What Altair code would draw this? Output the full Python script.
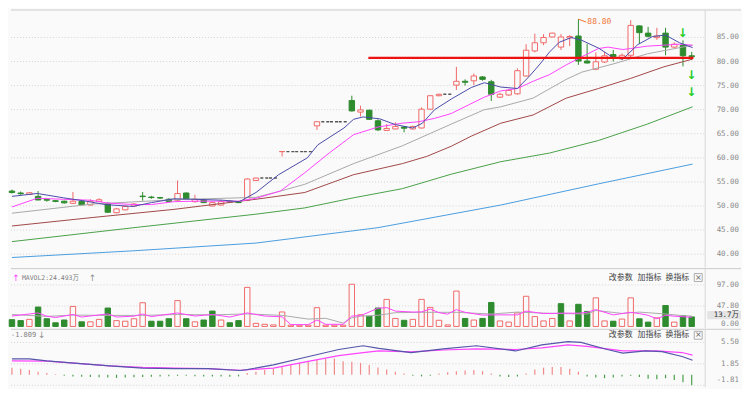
import altair as alt
import pandas as pd

# ---------------- data ----------------
opens = [53.1, 52.7, 52.4, 52.0, 51.35, 51.1, 51.0, 50.55, 50.95, 50.2,
         50.95, 50.55, 48.6, 49.2, 50.0, 52.05, 51.85, 51.75, 51.4, 51.2,
         52.7, 50.9, 51.2, 50.0, 50.2, 51.0, 50.8, 51.2, 55.3, 55.8,
         55.8, 61.3, 61.3, 61.3, 61.3, 66.65, 67.5, 67.5, 67.5, 71.9,
         69.5, 69.9, 67.7, 65.7, 66.0, 66.4, 66.0, 66.2, 70.1, 72.9,
         73.2, 75.1, 75.9, 76.0, 76.8, 75.8, 72.6, 73.05, 73.3, 77.0,
         82.2, 83.9, 85.1, 83.0, 84.9, 85.3, 80.1, 78.4, 79.9, 81.45,
         80.6, 81.3, 87.4, 85.9, 84.96, 85.9, 83.0, 83.4, 81.2]
highs = [53.4, 53.0, 52.9, 53.1, 51.6, 51.2, 51.1, 52.9, 51.0, 51.4,
         51.6, 50.8, 49.6, 50.1, 50.6, 52.9, 52.1, 51.9, 51.6, 55.3,
         52.8, 52.3, 51.5, 50.9, 51.3, 51.1, 50.9, 55.75, 55.9, 55.8,
         55.8, 61.3, 61.3, 61.3, 61.3, 67.5, 67.5, 67.5, 67.5, 72.9,
         70.85, 70.0, 68.0, 67.0, 67.4, 66.6, 66.7, 70.5, 73.0, 73.3,
         73.2, 78.9, 76.3, 77.5, 77.0, 76.2, 73.5, 74.2, 78.6, 83.6,
         85.8, 85.7, 86.0, 85.7, 85.5, 88.8, 83.7, 81.9, 82.0, 82.4,
         81.7, 88.6, 87.5, 87.2, 87.0, 87.0, 84.0, 84.4, 82.0]
lows = [52.6, 52.3, 52.3, 51.2, 50.9, 50.8, 50.5, 50.4, 50.2, 50.1,
        50.8, 48.6, 48.5, 49.1, 49.9, 51.1, 51.5, 51.5, 50.8, 51.0,
        51.4, 50.7, 50.6, 49.9, 50.1, 50.7, 50.6, 51.0, 55.2, 55.8,
        55.8, 60.3, 61.3, 61.3, 61.3, 65.8, 67.5, 67.5, 67.5, 69.6,
        68.6, 67.9, 65.6, 65.6, 65.9, 65.3, 65.9, 66.1, 70.0, 72.8,
        73.2, 74.1, 75.0, 75.1, 76.0, 71.8, 72.4, 72.9, 73.1, 76.9,
        81.9, 83.4, 85.0, 82.4, 83.2, 79.3, 79.6, 78.2, 79.7, 80.0,
        80.3, 80.8, 83.7, 85.0, 84.5, 81.3, 82.8, 79.0, 80.3]
closes = [52.8, 52.55, 52.75, 51.25, 51.2, 50.95, 50.65, 51.0, 50.25, 51.0,
          51.3, 48.7, 49.4, 49.9, 50.4, 51.95, 51.75, 51.65, 50.95, 52.6,
          51.5, 51.4, 50.7, 50.7, 50.9, 50.85, 50.7, 55.6, 55.8, 55.8,
          55.8, 61.3, 61.3, 61.3, 61.3, 67.5, 67.5, 67.5, 67.5, 69.75,
          69.95, 68.0, 65.8, 66.1, 66.5, 66.15, 66.5, 70.1, 72.9, 73.2,
          73.2, 75.9, 75.7, 77.0, 76.3, 73.2, 73.2, 74.0, 78.1, 82.35,
          83.9, 85.0, 85.9, 85.1, 85.2, 80.1, 79.7, 79.95, 81.2, 81.0,
          81.3, 87.5, 86.0, 85.25, 85.3, 83.0, 83.6, 81.2, 81.0]
suspended = [29, 30, 32, 33, 34, 36, 37, 38, 50]

volumes = [15.8, 13.6, 16.5, 45.3, 18.0, 8.6, 15.0, 46.7, 10.8, 10.8,
           16.5, 43.0, 13.6, 12.2, 18.0, 55.4, 12.2, 12.2, 18.0, 60.3,
           18.0, 10.8, 15.0, 35.9, 15.0, 8.6, 13.6, 91.2, 7.2, 5.0,
           3.6, 33.8, 3.0, 3.0, 3.0, 43.8, 3.0, 3.0, 3.0, 98.5,
           27.3, 23.7, 43.1, 63.2, 18.7, 14.4, 16.5, 63.2, 44.5, 14.4,
           3.6, 82.6, 18.7, 15.0, 18.7, 56.0, 12.9, 10.1, 31.6, 70.4,
           23.0, 12.9, 18.7, 53.2, 12.9, 51.7, 35.1, 66.8, 12.9, 12.2,
           17.2, 66.8, 17.9, 10.1, 20.0, 48.9, 10.1, 25.2, 22.2]
vol_colors = ["g", "g", "r", "g", "g", "g", "g", "r", "g", "r",
              "r", "g", "r", "r", "r", "r", "g", "g", "g", "r",
              "g", "r", "g", "g", "r", "g", "g", "r", "r", "r",
              "r", "r", "r", "r", "r", "r", "r", "r", "r", "r",
              "r", "g", "g", "r", "r", "g", "r", "r", "r", "r",
              "r", "r", "g", "r", "g", "g", "r", "r", "r", "r",
              "r", "r", "r", "g", "r", "g", "g", "r", "r", "g",
              "r", "r", "g", "g", "r", "g", "r", "g", "g"]

ma5_x = [0, 2.9, 5.9, 8.5, 10.7, 13.9, 16, 18.6, 20.9, 24.2, 26.1, 28, 30.6, 33.9, 35.1,
         38.1, 39.2, 40.3, 42.2, 44, 46, 47.1, 48.5, 50.4, 52.7, 54.2, 56.1, 58, 59.4,
         60.6, 61.7, 62.8, 64.2, 65.4, 67.3, 69, 70.1, 71.8, 73.5, 75, 76.6, 78.1]
ma5_y = [52.0, 52.6, 51.7, 51.0, 50.3, 49.9, 50.7, 51.5, 51.4, 51.2, 50.9, 52.8, 56.5, 60.0, 62.7,
         66.2, 68.0, 68.5, 68.1, 66.9, 66.2, 67.2, 70.0, 72.2, 74.6, 75.6, 74.7, 74.4, 77.0,
         79.5, 82.0, 84.0, 85.0, 84.4, 82.8, 80.8, 80.5, 83.5, 85.2, 85.5, 83.9, 82.9]
ma10_x = [0, 2.9, 5.9, 9, 11, 14, 16, 18.6, 21, 24, 26.1, 28, 30.8, 33.6, 36.4, 39.2, 42,
          44.8, 46.7, 48.5, 50.4, 52.4, 54.2, 56.1, 58, 59.8, 61.7, 63.6, 65.4, 67.3, 68.4,
          70.1, 71, 72.9, 74.8, 76.6, 78.1]
ma10_y = [49.8, 51.6, 51.4, 51.2, 50.6, 50.3, 50.3, 50.9, 51.0, 51.0, 51.0, 51.6, 53.1, 56.9, 61.0,
          64.8, 66.4, 67.2, 67.5, 68.2, 69.2, 71.0, 72.6, 73.9, 74.4, 75.9, 77.3, 79.3, 81.0,
          82.7, 83.0, 82.5, 82.7, 83.2, 83.4, 83.6, 83.4]
ma20_x = [0, 9.2, 18.6, 28, 30.8, 33.6, 39.2, 44.8, 50.4, 54.2, 56.1, 59.8, 63.6, 65.4, 69.2, 72.9, 78.1]
ma20_y = [48.5, 50.4, 51.3, 51.8, 53.1, 54.5, 58.8, 62.5, 67.0, 70.0, 70.6, 72.4, 76.3, 77.8, 79.6, 81.6, 83.4]
ma30_x = [0, 9.2, 18.6, 28, 33.6, 39.2, 44.8, 47.6, 50.4, 52.7, 56.1, 59.8, 63.6, 67.3, 71, 74.8, 78.1]
ma30_y = [45.85, 47.6, 49.3, 51.4, 52.8, 56.5, 58.8, 60.3, 62.4, 64.5, 67.2, 68.9, 72.4, 74.4, 76.5, 78.9, 80.5]
ma60_x = [0, 14, 28, 33.6, 39.2, 44.8, 50.4, 56.1, 61.7, 67.3, 70.1, 72.9, 78.1]
ma60_y = [42.6, 45.5, 48.3, 49.6, 51.7, 53.6, 56.6, 59.2, 61.0, 63.6, 65.3, 67.0, 70.6]
ma120_x = [0, 14, 28, 42, 56.1, 67.3, 78.1]
ma120_y = [39.3, 40.7, 42.3, 45.5, 50.2, 54.6, 58.7]

mavol1_x = [0, 3, 4, 5, 7, 8, 11, 12, 14, 15, 16, 19, 21, 23, 25, 27, 29, 31, 32, 34, 35, 36,
            38, 39, 40, 42, 43, 44, 46, 47, 48, 49, 50, 51, 52, 54, 56, 58, 59, 61, 63, 65,
            66, 67, 69, 71, 72, 73, 74, 75, 76, 78]
mavol1_y = [24.3, 31.5, 24, 20.8, 27.9, 22, 29.3, 22, 24, 29, 23, 31.5, 24.3, 28, 22, 31.5, 24.3,
            22.5, 4.3, 4.3, 15, 5, 5, 24.3, 25.1, 42.5, 44, 35.8, 33.6, 34, 40.7, 32.2, 28.7,
            39.3, 33, 26.5, 27, 27, 35.8, 30, 31, 31, 33, 39.3, 27, 33, 30, 26, 17.9, 26, 24, 21.4]
mavol2_x = [0, 4, 7, 11, 15, 19, 23, 27, 31, 34, 36, 38, 39, 40, 42, 44, 47, 51, 55, 58, 62,
            66, 67, 70, 72, 73, 75, 77, 78]
mavol2_y = [27.9, 23.5, 26.5, 25.8, 25.8, 27.9, 27, 29.3, 25.8, 17.2, 19, 7.9, 20, 24, 26, 32.2,
            33, 33, 29, 33.5, 30.5, 29, 37.3, 30.5, 33.5, 32, 29, 25.1, 24.3]

dif_x = [0, 2, 4, 7.5, 11.2, 15, 18.7, 22.5, 26.2, 27, 30, 33.7, 37.5, 40.3, 42.1, 45.8, 49.5,
         53.3, 57.8, 60.8, 63.8, 65.3, 68.3, 70.1, 72.7, 74.6, 76.9, 78.1]
dif_y = [2.71, 2.71, 2.35, 1.92, 1.51, 1.13, 1.03, 1.03, 0.71, 0.87, 1.67, 2.98, 4.3, 4.94, 4.5,
         3.78, 4.41, 4.94, 4.05, 5.1, 5.63, 5.5, 4.3, 3.67, 4.05, 3.94, 3.1, 2.46]
dea_x = [0, 4, 7.5, 11.2, 15, 18.7, 22.5, 26.2, 30, 33.7, 37.5, 40.3, 42.1, 45.8, 49.5, 53.3,
         57.8, 60.8, 63.8, 66, 70.1, 74, 76.9, 78.1]
dea_y = [2.35, 2.3, 1.92, 1.51, 1.24, 1.13, 1.03, 0.76, 1.13, 2.19, 3.25, 3.78, 4.05, 3.89, 4.21,
         4.41, 4.3, 4.57, 5.1, 4.84, 4.05, 4.05, 3.78, 3.35]
macd_bar = [1.2, 1.0, 0.8, 0.5, 0.3, 0.1, -0.2, -0.3, -0.35, -0.4, -0.45, -0.5, -0.55, -0.5,
            -0.45, -0.4, -0.35, -0.3, -0.25, -0.2, -0.2, -0.25, -0.3, -0.3, -0.3, -0.35, -0.3,
            0.3, 0.5, 0.8, 1.1, 1.4, 1.7, 2.0, 2.3, 2.5, 2.7, 2.75, 2.3, 2.19, 2.03, 1.67, 1.24,
            0.9, 0.5, 0.2, -0.2, -0.3, -0.2, 0.2, 0.4, 0.6, 0.7, 0.8, 0.6, 0.2, -0.3, -0.4, -0.3,
            0.2, 0.9, 1.2, 1.3, 1.3, 1.0, 0.5, -0.3, -0.5, -0.6, -0.5, -0.3, -0.2, -0.4, -0.7,
            -0.8, -0.6, -0.9, -1.3, -1.8]

price_ticks = [85, 80, 75, 70, 65, 60, 55, 50, 45, 40]
vol_ticks = [97.0, 47.8]
vol_ticks_low = [0.0]
macd_ticks = [5.5, 1.85]
macd_ticks_low = [-1.81]

support_level = 80.76
support_from, support_to = 40.9, 78.2
signal_idx = [77, 78, 78]
signal_price = [85.9, 77.3, 73.6]

# ---------------- styling ----------------
W = 698
HM, HV, HD = 259, 60, 58
BG = "#fafafa"
RED = "#f06a6a"
GRN = "#2e8b2e"
GRID = "#d4d4d4"
MONO = "DejaVu Sans Mono, Noto Sans CJK SC"
CJK = "Noto Sans CJK SC"
LBL = "#8a8a8a"

xscale = alt.Scale(domain=[-0.11, 79.55], nice=False, zero=False)
ys_main = alt.Scale(domain=[37.2, 90.7], nice=False, zero=False)
ys_vol = alt.Scale(domain=[-4.3, 135], nice=False, zero=False)
ys_macd = alt.Scale(domain=[-2.1, 7.75], nice=False, zero=False)


def X(f):
    return alt.X(f, scale=xscale, axis=None)


def Yf(f, s):
    return alt.Y(f, scale=s, axis=None)


one = pd.DataFrame({"a": [0]})


def note(txt, x, y, color="#444", size=8, font=CJK, align="center", weight="normal"):
    return alt.Chart(one).mark_text(text=txt, color=color, fontSize=size, font=font,
                                    align=align, baseline="middle", fontWeight=weight).encode(
        x=alt.value(x), y=alt.value(y))


def grid_and_labels(ticks, scale, fmt, dy=0):
    df = pd.DataFrame({"v": ticks, "lab": [fmt.format(t) for t in ticks]})
    g = alt.Chart(df).mark_rule(color=GRID, strokeDash=[1, 2], strokeWidth=1).encode(
        y=Yf("v:Q", scale), x=alt.value(0), x2=alt.value(W))
    t = alt.Chart(df).mark_text(align="right", baseline="middle", font=MONO, fontSize=7.5,
                                color=LBL, dy=dy).encode(
        y=Yf("v:Q", scale), x=alt.value(W + 34), text="lab:N")
    return [g, t]


def frame(H):
    top = alt.Chart(one).mark_rule(color="#cccccc").encode(
        x=alt.value(0), x2=alt.value(W + 36), y=alt.value(0))
    right = alt.Chart(one).mark_rule(color="#d8d8d8").encode(
        x=alt.value(W), y=alt.value(0), y2=alt.value(H))
    return [top, right]


def tool_header(y):
    out = [note("改参数", 613, y), note("加指标", 642, y), note("换指标", 670, y)]
    box = alt.Chart(one).mark_rect(fill=BG, stroke="#999999", strokeWidth=0.8).encode(
        x=alt.value(687), x2=alt.value(695), y=alt.value(y - 4), y2=alt.value(y + 4))
    out += [box, note("×", 691, y, color="#666", size=8, font="DejaVu Sans")]
    return out


# ---------------- main (price) panel ----------------
cd = pd.DataFrame({"idx": list(range(len(opens))), "o": opens, "h": highs,
                   "l": lows, "c": closes})
cd["susp"] = cd["idx"].isin(suspended)
up = "datum.c >= datum.o"

live = alt.Chart(cd).transform_filter("!datum.susp")
wick = live.mark_rule(strokeWidth=1).encode(
    x=X("idx:Q"), y=Yf("l:Q", ys_main), y2="h:Q",
    color=alt.condition(up, alt.value(RED), alt.value(GRN)))
body = live.transform_calculate(x0="datum.idx - 0.31", x1="datum.idx + 0.31").mark_rect(
    strokeWidth=1).encode(
    x=X("x0:Q"), x2="x1:Q", y=Yf("o:Q", ys_main), y2="c:Q",
    fill=alt.condition(up, alt.value(BG), alt.value(GRN)),
    stroke=alt.condition(up, alt.value(RED), alt.value(GRN)))
susp = alt.Chart(cd).transform_filter("datum.susp").transform_calculate(
    a="datum.idx - 0.5", b="datum.idx + 0.5").mark_rule(
    color="#555555", strokeDash=[3, 2], strokeWidth=1.4).encode(
    x=X("a:Q"), x2="b:Q", y=Yf("c:Q", ys_main))

ma_specs = [(ma120_x, ma120_y, "#4a9de0"), (ma60_x, ma60_y, "#4aa04a"),
            (ma30_x, ma30_y, "#a04848"), (ma20_x, ma20_y, "#a8a8a8"),
            (ma10_x, ma10_y, "#ff44ff"), (ma5_x, ma5_y, "#4b4ba8")]
ma_layers = []
for xs_, ys_, col in ma_specs:
    ma_layers.append(alt.Chart(pd.DataFrame({"idx": xs_, "v": ys_})).mark_line(
        color=col, strokeWidth=1).encode(x=X("idx:Q"), y=Yf("v:Q", ys_main)))

support = alt.Chart(pd.DataFrame({"a": [support_from], "b": [support_to],
                                  "v": [support_level]})).mark_rule(
    color="#ee1111", strokeWidth=2.3).encode(x=X("a:Q"), x2="b:Q", y=Yf("v:Q", ys_main))

imax = highs.index(max(highs))
hi_df = pd.DataFrame({"idx": [imax], "h": [highs[imax]],
                      "lab": ["{:.2f}".format(highs[imax])]})
hi_lead = alt.Chart(hi_df).transform_calculate(
    a="datum.idx + 0.9", h2="datum.h - 0.6").mark_rule(
    color="#f07030", strokeWidth=1).encode(x=X("idx:Q"), x2="a:Q",
                                           y=Yf("h:Q", ys_main), y2="h2:Q")
hi_text = alt.Chart(hi_df).mark_text(align="left", baseline="middle", font=MONO,
                                     fontSize=8, color="#f07030", dx=9, dy=3).encode(
    x=X("idx:Q"), y=Yf("h:Q", ys_main), text="lab:N")

signals = alt.Chart(pd.DataFrame({"idx": signal_idx, "v": signal_price})).mark_text(
    text="↓", color="#22cc22", fontSize=12, fontWeight="bold", font="DejaVu Sans",
    baseline="middle").encode(x=X("idx:Q"), y=Yf("v:Q", ys_main))

main_layers = grid_and_labels(price_ticks, ys_main, "{:.2f}") + \
    [wick, body, susp] + ma_layers + [support, hi_lead, hi_text, signals] + frame(HM)
main = alt.layer(*main_layers).properties(width=W, height=HM)

# ---------------- volume panel ----------------
vd = pd.DataFrame({"idx": list(range(len(volumes))), "v": volumes, "col": vol_colors})
isred = "datum.col == 'r'"
vbars = alt.Chart(vd).transform_calculate(
    x0="datum.idx - 0.31", x1="datum.idx + 0.31", z="0").mark_rect(strokeWidth=1).encode(
    x=X("x0:Q"), x2="x1:Q", y=Yf("v:Q", ys_vol), y2="z:Q",
    fill=alt.condition(isred, alt.value(BG), alt.value(GRN)),
    stroke=alt.condition(isred, alt.value(RED), alt.value(GRN)))
mavol_layers = [
    alt.Chart(pd.DataFrame({"idx": mavol2_x, "v": mavol2_y})).mark_line(
        color="#aaaaaa", strokeWidth=1).encode(x=X("idx:Q"), y=Yf("v:Q", ys_vol)),
    alt.Chart(pd.DataFrame({"idx": mavol1_x, "v": mavol1_y})).mark_line(
        color="#ff44ff", strokeWidth=1).encode(x=X("idx:Q"), y=Yf("v:Q", ys_vol)),
]
vol_box = alt.Chart(one).mark_rect(fill="#e4e4e4").encode(
    x=alt.value(W + 2), x2=alt.value(W + 36), y=alt.value(42.5), y2=alt.value(51))
vol_layers = grid_and_labels(vol_ticks, ys_vol, "{:.2f}") + \
    grid_and_labels(vol_ticks_low, ys_vol, "{:.2f}", dy=-2)[1:] + \
    [vbars] + mavol_layers + frame(HV) + [
        vol_box, note("13.7万", W + 34, 46.8, color="#333", size=7.5, font=MONO, align="right"),
        note("↑", 5, 9, color="#ff44ff", size=9, font="DejaVu Sans"),
        note("MAVOL2:24.493万", 11, 9, color="#808080", size=6.5, font=MONO, align="left"),
        note("↑", 82, 9, color="#909090", size=9, font="DejaVu Sans"),
    ] + tool_header(9)
volp = alt.layer(*vol_layers).properties(width=W, height=HV)

# ---------------- MACD panel ----------------
md = pd.DataFrame({"idx": list(range(len(macd_bar))), "m": macd_bar})
mbars = alt.Chart(md).transform_calculate(z="0").mark_rule(strokeWidth=1.2).encode(
    x=X("idx:Q"), y=Yf("m:Q", ys_macd), y2="z:Q",
    color=alt.condition("datum.m >= 0", alt.value("#f08a8a"), alt.value("#4aa04a")))
macd_lines = [
    alt.Chart(pd.DataFrame({"idx": dea_x, "v": dea_y})).mark_line(
        color="#ff44ff", strokeWidth=1.2).encode(x=X("idx:Q"), y=Yf("v:Q", ys_macd)),
    alt.Chart(pd.DataFrame({"idx": dif_x, "v": dif_y})).mark_line(
        color="#5555aa", strokeWidth=1.2).encode(x=X("idx:Q"), y=Yf("v:Q", ys_macd)),
]
macd_layers = grid_and_labels(macd_ticks, ys_macd, "{:.2f}") + \
    grid_and_labels(macd_ticks_low, ys_macd, "{:.2f}", dy=-5) + \
    [mbars] + macd_lines + frame(HD) + [
        note("-1.809", 0, 6, color="#808080", size=7, font=MONO, align="left"),
        note("↓", 31, 6, color="#909090", size=9, font="DejaVu Sans"),
    ] + tool_header(6)
macdp = alt.layer(*macd_layers).properties(width=W, height=HD)

chart = alt.vconcat(main, volp, macdp, spacing=1, bounds="flush").properties(
    background=BG, padding=0).configure_view(stroke=None)

chart.save("out.html", embed_options={"renderer": "svg", "actions": False})
